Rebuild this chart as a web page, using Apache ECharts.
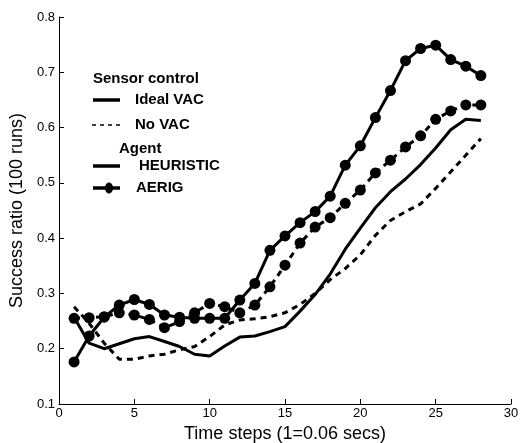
<!DOCTYPE html>
<html>
<head>
<meta charset="utf-8">
<script src="https://cdn.jsdelivr.net/npm/echarts@6/dist/echarts.min.js"></script>
<style>
  html, body { margin: 0; padding: 0; background: #fff; }
  #chart { width: 528px; height: 443px; }
</style>
</head>
<body>
<div id="chart"></div>
<script>
// time steps 1..28
var steps = [1,2,3,4,5,6,7,8,9,10,11,12,13,14,15,16,17,18,19,20,21,22,23,24,25,26,27,28];

// Ideal VAC / HEURISTIC (solid line)
var idealHeur = [0.257,0.210,0.200,0.209,0.218,0.222,0.213,0.204,0.190,0.187,0.205,0.221,0.223,0.231,
                 0.240,0.268,0.298,0.335,0.380,0.418,0.455,0.484,0.507,0.533,0.563,0.596,0.615,0.613];
// No VAC / HEURISTIC (dashed line)
var noHeur = [0.276,0.246,0.210,0.181,0.181,0.187,0.190,0.198,0.204,0.222,0.243,0.252,0.254,0.258,
              0.265,0.280,0.300,0.325,0.345,0.370,0.405,0.432,0.448,0.462,0.490,0.520,0.550,0.580];
// Ideal VAC / AERIG (solid with markers)
var idealAerig = [0.176,0.223,0.257,0.279,0.289,0.280,0.261,0.257,0.255,0.255,0.255,0.288,0.318,0.378,
                  0.404,0.428,0.448,0.476,0.532,0.567,0.618,0.667,0.721,0.743,0.749,0.723,0.711,0.694];
// No VAC / AERIG (dashed with markers)
var noAerig = [0.255,0.256,0.258,0.265,0.261,0.253,0.238,0.249,0.265,0.282,0.276,0.265,0.279,0.312,
               0.351,0.391,0.420,0.437,0.463,0.487,0.518,0.541,0.565,0.585,0.615,0.630,0.641,0.641];

var FONT = 'Liberation Sans, Arial, Helvetica, sans-serif';
var LEG_FONT = 'bold 15px ' + FONT;

function pairs(vals) {
    var out = [];
    for (var i = 0; i < steps.length; i++) out.push([steps[i], vals[i]]);
    return out;
}

function mkSeries(name, vals, dashed, marker) {
    return {
        name: name,
        type: 'line',
        data: pairs(vals),
        symbol: marker ? 'circle' : 'none',
        symbolSize: 11,
        showSymbol: marker,
        itemStyle: { color: '#000' },
        lineStyle: { color: '#000', width: 3, type: dashed ? [6, 5] : 'solid' },
        animation: false,
        z: marker ? 3 : 2
    };
}

function legText(txt, x, y) {
    return { type: 'text', style: { text: txt, x: x, y: y, font: LEG_FONT, fill: '#000', verticalAlign: 'middle' } };
}

var chart = echarts.init(document.getElementById('chart'));

// legend drawn by hand (two groups: line style and agent)
var legendGraphics = [
    legText('Sensor control', 93, 79),
    { type: 'line', shape: { x1: 93, y1: 100, x2: 120, y2: 100 }, style: { stroke: '#000', lineWidth: 3.5 } },
    legText('Ideal VAC', 135, 100),
    { type: 'line', shape: { x1: 92, y1: 125, x2: 120, y2: 125 }, style: { stroke: '#000', lineWidth: 1.5, lineDash: [4, 4] } },
    legText('No VAC', 135, 125),
    legText('Agent', 119, 149),
    { type: 'line', shape: { x1: 93, y1: 166, x2: 120, y2: 166 }, style: { stroke: '#000', lineWidth: 3.5 } },
    legText('HEURISTIC', 139, 166),
    { type: 'line', shape: { x1: 93, y1: 188, x2: 120, y2: 188 }, style: { stroke: '#000', lineWidth: 3.5 } },
    { type: 'ellipse', shape: { cx: 109, cy: 188, rx: 4, ry: 5.5 }, style: { fill: '#000' } },
    legText('AERIG', 136, 188)
];

var option = {
    backgroundColor: '#fff',
    animation: false,
    textStyle: { fontFamily: FONT },
    grid: { left: 59, right: 17, top: 17, bottom: 39, containLabel: false, outerBoundsMode: 'none' },
    xAxis: {
        type: 'value',
        min: 0, max: 30, interval: 5,
        name: 'Time steps (1=0.06 secs)',
        nameLocation: 'middle',
        nameGap: 19,
        nameTextStyle: { fontSize: 18, color: '#000', fontFamily: FONT },
        axisLine: { onZero: false, lineStyle: { color: '#000', width: 1 } },
        axisTick: { inside: true, length: 5, lineStyle: { color: '#000' } },
        axisLabel: { fontSize: 13, color: '#000', margin: 3, fontFamily: FONT },
        splitLine: { show: false }
    },
    yAxis: {
        type: 'value',
        min: 0.1, max: 0.8, interval: 0.1,
        name: 'Success ratio (100 runs)',
        nameLocation: 'middle',
        nameGap: 30,
        nameTextStyle: { fontSize: 18, color: '#000', fontFamily: FONT },
        axisLine: { show: true, lineStyle: { color: '#000', width: 1 } },
        axisTick: { show: true, inside: true, length: 5, lineStyle: { color: '#000' } },
        axisLabel: {
            fontSize: 13, color: '#000', margin: 4, fontFamily: FONT,
            formatter: function (v) { return (Math.round(v * 10) / 10).toString(); }
        },
        splitLine: { show: false }
    },
    series: [
        mkSeries('Ideal VAC HEURISTIC', idealHeur, false, false),
        mkSeries('No VAC HEURISTIC', noHeur, true, false),
        mkSeries('Ideal VAC AERIG', idealAerig, false, true),
        mkSeries('No VAC AERIG', noAerig, true, true)
    ],
    graphic: legendGraphics
};

chart.setOption(option);
</script>
</body>
</html>
